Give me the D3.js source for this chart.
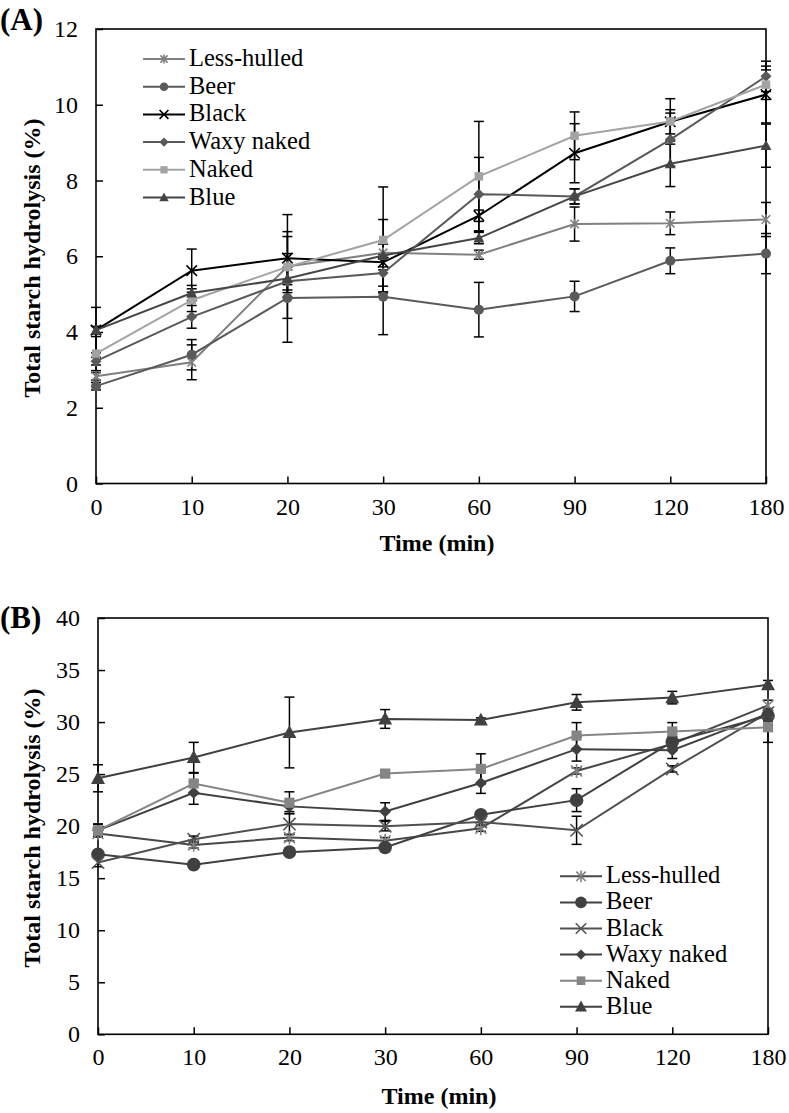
<!DOCTYPE html>
<html><head><meta charset="utf-8">
<script src="https://cdn.jsdelivr.net/npm/d3@7"></script>
<style>
html,body{margin:0;padding:0;background:#fff;}
svg{display:block;}
text{font-family:"Liberation Serif","Times New Roman",serif;fill:#000;}
</style></head>
<body>
<svg id="chart" width="789" height="1113"></svg>
<script>
// ---------- DATA ----------
const times = ["0","10","20","30","60","90","120","180"];
const seriesNames = ["Less-hulled","Beer","Black","Waxy naked","Naked","Blue"];
const markerTypes = ["asterisk","circle","times","diamond","square","triangle"];

// Panel A values
const aLessHulled = [2.83, 3.20, 5.73, 6.09, 6.04, 6.85, 6.87, 6.97];
const aBeer       = [2.57, 3.40, 4.90, 4.93, 4.59, 4.94, 5.88, 6.07];
const aBlack      = [4.05, 5.62, 5.95, 5.84, 7.07, 8.72, 9.55, 10.27];
const aWaxyNaked  = [3.23, 4.40, 5.34, 5.56, 7.64, 7.58, 9.08, 10.75];
const aNaked      = [3.43, 4.84, 5.72, 6.43, 8.11, 9.18, 9.56, 10.53];
const aBlue       = [4.05, 5.03, 5.41, 6.02, 6.48, 7.58, 8.44, 8.92];
// Panel A error bars
const aLessHulledErr = [0.10, 0.46, 1.37, 0.88, 0.12, 0.45, 0.30, 0.45];
const aBeerErr       = [0.10, 0.40, 1.17, 1.00, 0.72, 0.40, 0.34, 0.53];
const aBlackErr      = [0.10, 0.57, 0.70, 0.20, 0.15, 0.78, 0.32, 0.75];
const aWaxyNakedErr  = [0.10, 0.30, 0.30, 0.50, 0.97, 0.20, 0.70, 0.40];
const aNakedErr      = [0.45, 0.30, 0.80, 1.40, 1.45, 0.63, 0.60, 0.39];
const aBlueErr       = [0.60, 0.20, 0.30, 0.30, 0.15, 0.20, 0.60, 0.57];
const aYTicks = [0,2,4,6,8,10,12];

// Panel B values
const bLessHulled = [19.3, 18.2, 18.9, 18.6, 19.8, 25.3, 27.9, 31.6];
const bBeer       = [17.3, 16.3, 17.5, 17.95, 21.1, 22.5, 28.1, 30.6];
const bBlack      = [16.5, 18.75, 20.2, 20.0, 20.4, 19.6, 25.5, 30.9];
const bWaxyNaked  = [19.6, 23.2, 21.9, 21.4, 24.15, 27.4, 27.3, 30.8];
const bNaked      = [19.6, 24.1, 22.25, 25.05, 25.5, 28.7, 29.1, 29.5];
const bBlue       = [24.6, 26.6, 29.0, 30.3, 30.2, 31.9, 32.35, 33.6];
// Panel B error bars
const bLessHulledErr = [0.3, 0.3, 0.3, 0.3, 0.3, 0.3, 0.3, 0.5];
const bBeerErr       = [0.3, 0.2, 0.3, 0.3, 0.3, 1.1, 0.5, 0.5];
const bBlackErr      = [0.4, 0.3, 1.0, 0.45, 0.3, 1.35, 0.3, 0.4];
const bWaxyNakedErr  = [0.6, 1.1, 0.5, 0.85, 1.0, 1.15, 0.8, 0.4];
const bNakedErr      = [0.6, 1.0, 1.05, 0.35, 1.45, 1.25, 0.85, 1.45];
const bBlueErr       = [1.3, 1.45, 3.4, 0.9, 0.2, 0.75, 0.6, 0.4];
const bYTicks = [0,5,10,15,20,25,30,35,40];

const yTitle = "Total starch hydrolysis (%)";
const xTitle = "Time (min)";

// ---------- STYLE ----------
const aStyles = [
  {line:"#808080", fill:"#808080", size:5},
  {line:"#5a5a5a", fill:"#5a5a5a", size:5},
  {line:"#000000", fill:"#000000", size:5.5},
  {line:"#595959", fill:"#595959", size:5.5},
  {line:"#a3a3a3", fill:"#a3a3a3", size:5},
  {line:"#454545", fill:"#454545", size:5.5}
];
const bStyles = [
  {line:"#484848", fill:"#808080", size:6.5},
  {line:"#404040", fill:"#404040", size:6.8},
  {line:"#505050", fill:"#555555", size:6.5},
  {line:"#404040", fill:"#404040", size:6},
  {line:"#858585", fill:"#858585", size:6},
  {line:"#404040", fill:"#404040", size:7}
];

const svg = d3.select("#chart");

function marker(g, type, x, y, s, color){
  if(type==="circle"){
    g.append("circle").attr("cx",x).attr("cy",y).attr("r",s).attr("fill",color);
  } else if(type==="square"){
    const h=s*0.85;
    g.append("rect").attr("x",x-h).attr("y",y-h).attr("width",2*h).attr("height",2*h).attr("fill",color);
  } else if(type==="diamond"){
    g.append("path").attr("d",`M${x},${y-s}L${x+s},${y}L${x},${y+s}L${x-s},${y}Z`).attr("fill",color);
  } else if(type==="triangle"){
    g.append("path").attr("d",`M${x},${y-s*1.05}L${x+s},${y+s*0.8}L${x-s},${y+s*0.8}Z`).attr("fill",color);
  } else if(type==="times"){
    const h=s*0.95;
    g.append("path").attr("d",`M${x-h},${y-h}L${x+h},${y+h}M${x-h},${y+h}L${x+h},${y-h}`)
      .attr("stroke",color).attr("stroke-width",1.6).attr("fill","none");
  } else if(type==="asterisk"){
    const h=s*0.85;
    g.append("path").attr("d",`M${x-h},${y-h}L${x+h},${y+h}M${x-h},${y+h}L${x+h},${y-h}M${x},${y-h*1.25}L${x},${y+h*1.25}`)
      .attr("stroke",color).attr("stroke-width",1.6).attr("fill","none");
  }
}

function panel(cfg){
  const {left,right,top,bottom,yMax,yTicks,values,errs,styles,label,labelY,yTitleY,xTitleY,legend} = cfg;
  const x = d3.scalePoint().domain(times).range([left,right]).padding(0);
  const y = d3.scaleLinear().domain([0,yMax]).range([bottom,top]);
  const g = svg.append("g");

  // axes
  const ya = d3.axisLeft(y).tickValues(yTicks).tickSizeInner(-7).tickSizeOuter(0).tickPadding(18);
  const yg = g.append("g").attr("transform",`translate(${left},0)`).call(ya);
  const xa = d3.axisBottom(x).tickSizeInner(-7).tickSizeOuter(0).tickPadding(14);
  const xg = g.append("g").attr("transform",`translate(0,${bottom})`).call(xa);
  [yg,xg].forEach(a=>{
    a.attr("font-family",null).attr("font-size",null);
    a.selectAll("text").style("font-family",'"Liberation Serif",serif').style("font-size","24px").attr("fill","#000");
    a.selectAll("line").attr("stroke","#000").attr("stroke-width",1.5);
    a.select(".domain").remove();
  });
  // frame
  g.append("rect").attr("x",left).attr("y",top).attr("width",right-left).attr("height",bottom-top)
    .attr("fill","none").attr("stroke","#000").attr("stroke-width",1.6);

  // error bars
  const eg = g.append("g");
  values.forEach((vals,si)=>{
    vals.forEach((v,i)=>{
      const e = errs[si][i];
      const xx = x(times[i]);
      const y1 = y(v+e), y2 = y(v-e);
      eg.append("line").attr("x1",xx).attr("x2",xx).attr("y1",y1).attr("y2",y2).attr("stroke","#000").attr("stroke-width",1.5);
      [y1,y2].forEach(yy=>eg.append("line").attr("x1",xx-5).attr("x2",xx+5).attr("y1",yy).attr("y2",yy).attr("stroke","#000").attr("stroke-width",1.5));
    });
  });

  // lines + markers
  const line = d3.line().x((d,i)=>x(times[i])).y(d=>y(d));
  values.forEach((vals,si)=>{
    const sg = g.append("g");
    sg.append("path").attr("d",line(vals)).attr("fill","none").attr("stroke",styles[si].line).attr("stroke-width",2);
    vals.forEach((v,i)=>marker(sg, markerTypes[si], x(times[i]), y(v), styles[si].size, styles[si].fill));
  });

  // legend
  const lg = g.append("g");
  seriesNames.forEach((n,i)=>{
    const base = legend.y0 + legend.dy*i;
    const ly = base - 7;
    lg.append("line").attr("x1",legend.x0).attr("x2",legend.x1).attr("y1",ly).attr("y2",ly)
      .attr("stroke",styles[i].line).attr("stroke-width",2);
    marker(lg, markerTypes[i], (legend.x0+legend.x1)/2, ly, styles[i].size*0.85, styles[i].fill);
    lg.append("text").attr("x",legend.x1+4).attr("y",base).style("font-size","24.5px").text(n);
  });

  // titles
  g.append("text").attr("x",0).attr("y",labelY).style("font-size","31px").style("font-weight","bold").text(label);
  g.append("text").attr("transform",`translate(40,${yTitleY}) rotate(-90)`).attr("text-anchor","middle")
    .style("font-size","24px").style("font-weight","bold").text(yTitle);
  g.append("text").attr("x",(left+right)/2+6).attr("y",xTitleY).attr("text-anchor","middle")
    .style("font-size","24px").style("font-weight","bold").text(xTitle);
}

panel({left:96,right:766,top:29,bottom:483.5,yMax:12,yTicks:aYTicks,
  values:[aLessHulled,aBeer,aBlack,aWaxyNaked,aNaked,aBlue],
  errs:[aLessHulledErr,aBeerErr,aBlackErr,aWaxyNakedErr,aNakedErr,aBlueErr],
  styles:aStyles,label:"(A)",labelY:30,yTitleY:258,xTitleY:551,
  legend:{x0:143,x1:185,y0:66,dy:27.7}});

panel({left:98,right:768,top:618,bottom:1034.3,yMax:40,yTicks:bYTicks,
  values:[bLessHulled,bBeer,bBlack,bWaxyNaked,bNaked,bBlue],
  errs:[bLessHulledErr,bBeerErr,bBlackErr,bWaxyNakedErr,bNakedErr,bBlueErr],
  styles:bStyles,label:"(B)",labelY:628,yTitleY:828,xTitleY:1104,
  legend:{x0:560,x1:602,y0:883.3,dy:26.1}});
</script>
</body></html>
